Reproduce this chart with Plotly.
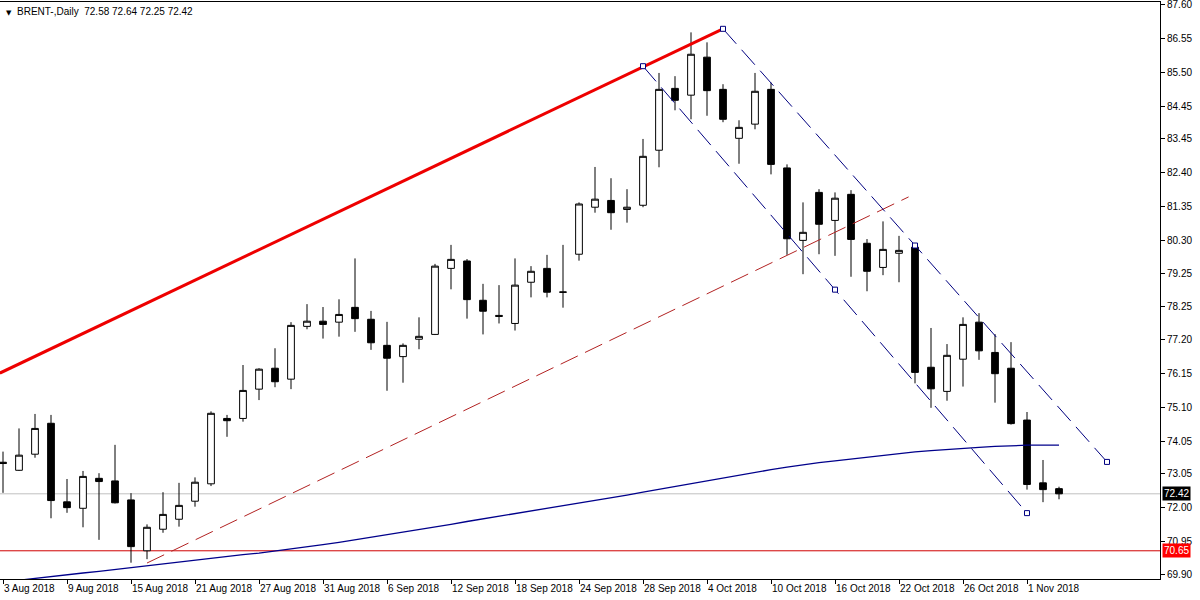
import plotly.graph_objects as go
import pandas as pd

# ---- data ----
dates = pd.bdate_range("2018-08-03", periods=67)
opens = [73.40, 73.15, 73.65, 74.61, 72.17, 71.97, 72.90, 72.82, 72.23, 70.65,
         71.32, 71.63, 72.19, 72.73, 74.76, 74.76, 75.67, 76.32, 75.98, 77.62,
         77.78, 77.75, 78.21, 77.84, 77.03, 76.68, 77.22, 77.37, 79.42, 79.65,
         78.43, 77.96, 77.71, 78.99, 79.42, 78.69, 79.86, 81.32, 81.53, 81.25,
         81.38, 83.09, 85.01, 84.80, 85.98, 84.98, 83.46, 83.90, 84.98, 82.54,
         80.29, 81.78, 80.91, 81.72, 80.20, 79.45, 79.89, 80.08, 76.35, 75.60,
         76.60, 77.75, 76.81, 76.32, 74.71, 72.76, 72.58]
highs = [73.73, 74.45, 74.90, 74.87, 72.88, 73.13, 73.06, 73.94, 72.44, 71.47,
         72.47, 72.76, 72.93, 74.98, 74.87, 76.42, 76.32, 76.94, 77.75, 78.31,
         78.22, 78.46, 79.73, 78.10, 77.76, 77.09, 77.90, 79.56, 80.15, 79.71,
         78.94, 78.90, 79.73, 79.49, 79.84, 80.15, 81.47, 82.57, 82.22, 81.88,
         83.44, 85.49, 85.39, 86.75, 86.44, 85.14, 84.02, 85.49, 85.19, 82.65,
         81.47, 81.88, 81.78, 81.85, 80.33, 80.88, 80.43, 80.15, 77.57, 77.07,
         77.90, 78.03, 77.38, 77.13, 74.96, 73.47, 72.64]
lows = [72.45, 73.13, 73.54, 71.66, 71.83, 71.38, 70.99, 72.12, 70.28, 70.39,
        71.21, 71.40, 72.02, 72.66, 74.19, 74.66, 75.33, 75.73, 75.67, 77.53,
        77.24, 77.30, 77.45, 76.89, 75.62, 75.87, 76.91, 77.35, 78.77, 77.86,
        77.37, 77.71, 77.49, 78.52, 78.52, 78.20, 79.66, 81.15, 80.62, 80.84,
        81.32, 82.56, 84.33, 84.05, 84.16, 83.96, 82.67, 83.74, 82.34, 79.84,
        79.24, 79.86, 79.81, 79.16, 78.71, 79.21, 78.99, 75.85, 75.09, 75.31,
        75.75, 76.58, 75.25, 74.57, 72.55, 72.16, 72.25]
closes = [73.36, 73.62, 74.45, 72.21, 71.99, 72.96, 72.80, 72.14, 70.78, 71.38,
          71.78, 72.06, 72.78, 74.92, 74.69, 75.63, 76.29, 75.90, 77.65, 77.78,
          77.68, 77.99, 77.86, 77.11, 76.63, 77.03, 77.31, 79.49, 79.70, 78.45,
          78.09, 77.93, 78.90, 79.33, 78.68, 78.68, 81.42, 81.57, 81.15, 81.32,
          82.90, 84.98, 84.64, 86.07, 84.94, 84.05, 83.80, 84.92, 82.65, 80.34,
          80.54, 80.79, 81.60, 80.32, 79.33, 80.01, 79.98, 76.19, 75.68, 76.72,
          77.68, 76.86, 76.15, 74.60, 72.71, 72.55, 72.42]
ma_values = [69.68, 69.74, 69.79, 69.84, 69.90, 69.96, 70.01, 70.07, 70.13, 70.18,
             70.24, 70.30, 70.36, 70.41, 70.47, 70.53, 70.58, 70.64, 70.70, 70.76,
             70.84, 70.91, 70.99, 71.06, 71.14, 71.21, 71.30, 71.38, 71.47, 71.56,
             71.64, 71.72, 71.80, 71.89, 71.96, 72.04, 72.12, 72.20, 72.29, 72.38,
             72.47, 72.56, 72.65, 72.74, 72.83, 72.92, 73.00, 73.08, 73.17, 73.25,
             73.33, 73.39, 73.44, 73.50, 73.56, 73.62, 73.68, 73.72, 73.76, 73.80,
             73.83, 73.86, 73.89, 73.92, 73.93, 73.93, 73.93]

x_tick_labels = ["3 Aug 2018", "9 Aug 2018", "15 Aug 2018", "21 Aug 2018", "27 Aug 2018",
                 "31 Aug 2018", "6 Sep 2018", "12 Sep 2018", "18 Sep 2018", "24 Sep 2018",
                 "28 Sep 2018", "4 Oct 2018", "10 Oct 2018", "16 Oct 2018", "22 Oct 2018",
                 "26 Oct 2018", "1 Nov 2018"]
x_tick_bars = [0, 4, 8, 12, 16, 20, 24, 28, 32, 36, 40, 44, 48, 52, 56, 60, 64]
y_tick_values = [87.60, 86.55, 85.50, 84.45, 83.45, 82.40, 81.35, 80.30, 79.25,
                 78.25, 77.20, 76.15, 75.10, 74.05, 73.05, 72.00, 70.95, 69.90]

# drawn objects (bar index, price)
red_trend_x = [-0.19, 45.0]
red_trend_y = [76.17, 86.86]
upper_chan_x = [45.0, 57.0, 69.0]
upper_chan_y = [86.86, 80.13, 73.41]
lower_chan_x = [40.0, 52.0, 64.0]
lower_chan_y = [85.70, 78.76, 71.82]
red_dash_x = [9.0, 56.6]
red_dash_y = [70.27, 81.64]
last_price = 72.42
support_level = 70.65

bar_idx = list(range(len(opens)))
FONT = "Liberation Sans"

fig = go.Figure()
fig.add_trace(go.Candlestick(
    x=bar_idx, open=opens, high=highs, low=lows, close=closes,
    text=[d.strftime("%d %b %Y") for d in dates],
    increasing=dict(line=dict(color="black", width=1), fillcolor="white"),
    decreasing=dict(line=dict(color="black", width=1), fillcolor="black"),
    whiskerwidth=0, showlegend=False))

fig.add_hline(y=last_price, line=dict(color="#C0C0C0", width=1), layer="below")
fig.add_hline(y=support_level, line=dict(color="#D00000", width=1), layer="below")

fig.add_trace(go.Scatter(x=bar_idx, y=ma_values, mode="lines",
                         line=dict(color="#00008B", width=1.3), hoverinfo="skip", showlegend=False))
fig.add_trace(go.Scatter(x=red_dash_x, y=red_dash_y, mode="lines",
                         line=dict(color="#B22222", width=1, dash="19px,8px"),
                         hoverinfo="skip", showlegend=False))
fig.add_trace(go.Scatter(x=red_trend_x, y=red_trend_y, mode="lines",
                         line=dict(color="#EE0000", width=3), hoverinfo="skip", showlegend=False))
for cx, cy in [(upper_chan_x, upper_chan_y), (lower_chan_x, lower_chan_y)]:
    fig.add_trace(go.Scatter(x=cx, y=cy, mode="lines+markers",
                             line=dict(color="#000080", width=1, dash="20px,8px"),
                             marker=dict(symbol="square", size=5, color="white",
                                         line=dict(color="#000080", width=1)),
                             hoverinfo="skip", showlegend=False))

fig.update_layout(
    width=1200, height=600,
    margin=dict(l=0, r=40, t=2, b=21),
    paper_bgcolor="white", plot_bgcolor="white",
    boxgap=0.4,
    font=dict(family=FONT, size=10, color="black"),
    showlegend=False,
    xaxis=dict(range=[-0.1875, 72.3125], tickvals=x_tick_bars, ticktext=x_tick_labels,
               ticks="outside", ticklen=4, tickcolor="black", tickangle=0,
               ticklabelposition="outside right", ticklabeloverflow="allow",
               showline=True, linecolor="black", linewidth=1, mirror=True,
               showgrid=False, zeroline=False, rangeslider=dict(visible=False),
               tickfont=dict(family=FONT, size=10, color="black")),
    yaxis=dict(side="right", range=[69.774, 87.693], tickvals=y_tick_values,
               ticktext=["%.2f" % v for v in y_tick_values],
               ticks="outside", ticklen=4, tickcolor="black", ticklabeloverflow="allow",
               showline=True, linecolor="black", linewidth=1, mirror=True,
               showgrid=False, zeroline=False,
               tickfont=dict(family=FONT, size=10, color="black")),
)

fig.add_annotation(xref="paper", yref="y", x=1, y=last_price, text="%.2f" % last_price,
                   xanchor="left", yanchor="middle", showarrow=False, bgcolor="black",
                   font=dict(family=FONT, size=10, color="white"), borderpad=1, xshift=2)
fig.add_annotation(xref="paper", yref="y", x=1, y=support_level, text="%.2f" % support_level,
                   xanchor="left", yanchor="middle", showarrow=False, bgcolor="#FF0000",
                   font=dict(family=FONT, size=10, color="white"), borderpad=1, xshift=2)
fig.add_annotation(xref="paper", yref="paper", x=0, y=1, text="▼",
                   xanchor="left", yanchor="top", showarrow=False,
                   font=dict(family="DejaVu Sans", size=7, color="black"), xshift=4, yshift=-5)
fig.add_annotation(xref="paper", yref="paper", x=0, y=1,
                   text="BRENT-,Daily  %.2f %.2f %.2f %.2f" % (opens[-1], highs[-1], lows[-1], closes[-1]),
                   xanchor="left", yanchor="top", showarrow=False,
                   font=dict(family=FONT, size=10, color="black"), xshift=15, yshift=-2)

fig.write_html("out.html", config={"displayModeBar": False},
               post_script="document.body.style.margin='0';")
